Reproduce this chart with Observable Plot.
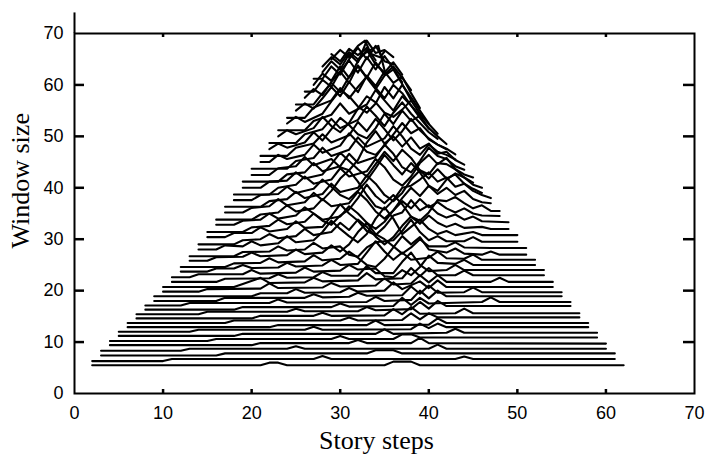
<!DOCTYPE html>
<html><head><meta charset="utf-8">
<script src="https://cdn.jsdelivr.net/npm/d3@7"></script>
<script src="https://cdn.jsdelivr.net/npm/@observablehq/plot@0.6"></script>
<style>body{margin:0;background:#fff}</style>
</head><body><div id="chart"></div>
<script>
const xTicks = [0,10,20,30,40,50,60,70];
const yTicks = [0,10,20,30,40,50,60,70];
const xLabel = "Story steps";
const yLabel = "Window size";

// one polyline per story window: [story step, window size] vertices
const lines = [
[[2,5.5],[21,5.5],[22,6],[23,6],[24,5.5],[35,5.5],[36,6.2],[38,6.2],[39,5.5],[62,5.5]],
[[2,6.3],[10,6.3],[11,6.7],[27,6.7],[28,7.3],[29,6.7],[43,6.7],[44,7.2],[45,6.7],[61,6.7]],
[[3,7.4],[16,7.4],[17,7.8],[33,7.8],[34,8.4],[36,8.4],[37,7.8],[61,7.8]],
[[3,8.3],[12,8.3],[13,8.7],[24,8.7],[25,9.2],[26,8.7],[40,8.7],[41,9.5],[42,8.7],[60,8.7]],
[[4,9.4],[20,9.4],[21,9.8],[31,9.8],[32,10.4],[33,9.8],[38,9.8],[39,10.8],[40,9.8],[60,9.7]],
[[4,10.2],[15,10.2],[16,10.6],[29,10.6],[30,11.2],[31,10.6],[36,10.6],[37,11.5],[38,11.5],[39,10.9],[59,10.9]],
[[5,11.2],[18,11.2],[19,11.6],[34,11.6],[35,12.5],[36,11.6],[42,11.8],[43,12.6],[44,11.8],[59,11.8]],
[[5,12],[13,12],[14,12.4],[26,12.4],[27,13],[28,12.4],[38,12.5],[39,13.6],[40,12.7],[41,13.6],[42,12.9],[58,12.9]],
[[6,12.9],[22,12.9],[23,13.3],[33,13.3],[34,14.2],[35,13.3],[40,13.4],[41,14.6],[42,13.7],[58,13.7]],
[[6,13.7],[17,13.7],[18,14.2],[30,14.2],[31,14.8],[32,14.2],[37,14.3],[38,15.6],[39,14.4],[40,15.6],[41,14.8],[57,14.8]],
[[7,14.6],[20,14.6],[21,15.1],[27,15.1],[28,15.7],[29,15.1],[35,15.2],[36,16.4],[37,15.4],[38,16.8],[39,15.5],[43,15.6],[44,16.5],[45,15.6],[57,15.6]],
[[7,15.4],[14,15.4],[15,15.9],[24,15.9],[25,16.5],[26,16],[32,16],[33,16.8],[34,16.2],[38,16.4],[39,17.8],[40,16.5],[41,18],[42,17],[56,17]],
[[8,16.3],[18,16.3],[19,16.8],[29,16.8],[30,17.5],[31,16.9],[36,17],[37,18.6],[38,17.2],[39,18.6],[40,17.5],[46,17.8],[47,18.7],[48,17.8],[56,17.8]],
[[8,17.1],[12,17.1],[13,17.6],[22,17.6],[23,18.3],[24,17.7],[33,17.8],[34,18.8],[35,18],[38,18.2],[39,20],[40,18.5],[41,20],[42,18.9],[55,18.9]],
[[9,18],[16,18],[17,18.6],[26,18.6],[27,19.3],[28,18.7],[31,18.8],[32,19.6],[33,19],[37,19.1],[38,20.8],[39,19.4],[40,21],[41,19.6],[44,19.7],[45,20.6],[46,19.7],[55,19.7]],
[[9,18.9],[20,18.9],[21,19.5],[24,19.5],[25,20.3],[26,19.6],[30,19.7],[31,20.5],[32,19.8],[35,20],[36,21.6],[37,20.3],[39,21.8],[40,20.5],[41,22],[42,20.7],[54,20.7]],
[[10,19.8],[14,19.8],[15,20.3],[21,20.4],[22,21.4],[23,20.5],[28,20.6],[29,21.5],[30,20.8],[34,21],[35,22.4],[36,21.2],[38,21.4],[39,23],[40,21.6],[41,23],[42,21.7],[47,21.7],[48,22.5],[49,21.7],[54,21.7]],
[[10,20.7],[18,20.7],[19,21.3],[21,22.5],[22,21.5],[26,21.6],[27,22.5],[28,21.8],[32,22],[33,23.4],[34,22.2],[37,22.4],[38,24.4],[39,22.8],[40,24.4],[41,23],[43,23],[44,23.9],[45,23],[53,23]],
[[11,21.7],[16,21.7],[17,22.3],[22,22.4],[23,23.2],[24,22.5],[27,22.6],[28,23.6],[29,22.9],[32,22.9],[33,24.8],[34,23.4],[36,23.4],[37,25.6],[38,27.4],[39,25],[40,23.8],[42,24],[43,25],[44,24],[53,24]],
[[11,22.6],[13,22.6],[14,23.2],[19,23.2],[20,24],[21,23.3],[25,23.5],[26,24.5],[27,23.7],[30,23.9],[31,25],[32,24.1],[34,24.3],[35,22.8],[36,22.6],[37,24],[38,23],[39,24.6],[40,26.8],[41,25.4],[43,25.2],[44,26],[45,25],[52,25]],
[[12,23.7],[15,23.7],[16,24.3],[18,24.3],[19,25],[20,24.4],[23,24.5],[24,25.4],[25,24.7],[28,24.9],[29,26],[30,25],[32,25.2],[33,27.4],[34,29.6],[35,27.6],[36,26],[37,27.4],[38,26],[40,26.4],[41,27.6],[42,26.3],[44,26.2],[45,27],[46,26],[52,26]],
[[12,24.6],[17,24.6],[18,25.3],[21,25.4],[22,26.3],[23,25.5],[26,25.7],[27,26.9],[28,25.9],[30,26.2],[31,27.6],[32,26.4],[33,25],[34,24.6],[35,26.2],[36,28.4],[37,30.6],[38,29],[39,30.4],[40,28],[42,27.4],[43,28.2],[44,27.2],[46,27],[47,27.6],[48,27],[51,27]],
[[13,25.8],[15,25.8],[16,26.5],[19,26.6],[20,27.4],[21,26.7],[24,26.9],[25,28],[26,27.1],[28,27.4],[29,28.8],[30,27.6],[31,29],[32,31.4],[33,33.2],[34,31],[35,30],[36,28.6],[37,27.2],[38,28.4],[39,30],[40,28.6],[42,28.6],[43,29.4],[44,28.4],[47,28.3],[51,28.3]],
[[13,26.7],[18,26.7],[19,27.5],[22,27.6],[23,28.6],[24,27.8],[26,28],[27,29.3],[28,28.2],[30,28.6],[31,27],[32,26.6],[33,28.4],[34,29.4],[36,29.8],[37,31.6],[38,33.8],[39,31.4],[40,29.8],[41,30.6],[42,29.6],[44,29.6],[45,30.4],[46,29.5],[50,29.5]],
[[14,28],[16,28],[17,28.8],[19,28.6],[20,29.6],[21,28.8],[23,29.2],[24,30.6],[25,29.4],[27,29.8],[28,31.4],[29,33.6],[30,32],[31,30.6],[32,29.4],[33,31],[34,34],[35,36.2],[36,34],[37,31],[38,32.4],[39,33.8],[40,32],[41,31],[42,31.6],[43,30.8],[45,31.4],[46,30.8],[50,30.8]],
[[14,29],[18,29],[19,29.8],[21,30],[22,31],[23,30.2],[25,30.6],[26,32],[27,30.8],[29,31.4],[30,33.2],[31,31.8],[32,33.8],[33,32.4],[34,30.5],[35,29],[36,30.4],[37,32.6],[38,34.4],[39,33],[40,34.6],[41,33.2],[42,32.4],[43,33],[44,32.2],[46,32.4],[47,32],[49,32]],
[[15,30.4],[17,30.4],[18,31.2],[20,31.2],[21,32.3],[22,31.5],[24,32],[25,33.5],[26,32.2],[28,32.4],[29,34.5],[30,36.8],[31,35],[32,33.6],[33,31.6],[34,30.8],[35,32.4],[36,34.6],[37,35.2],[38,37.6],[39,35.6],[40,36.6],[41,35],[42,34.2],[43,34.8],[44,33.8],[45,34.4],[46,33.5],[49,33.3]],
[[15,31.4],[19,31.4],[20,32.3],[22,32.6],[23,33.8],[24,32.9],[26,33.4],[27,35],[28,33.8],[30,34.4],[31,36.4],[32,35],[33,33.2],[34,32],[35,33.4],[36,35.6],[37,37.4],[38,36],[39,37.8],[40,36.2],[41,37.2],[42,36],[43,35.2],[44,36],[45,35],[46,34.6],[48,34.5]],
[[16,32.8],[18,32.8],[19,33.6],[21,33.8],[22,35],[23,34],[25,34.6],[26,36.2],[27,35],[28,33.6],[29,32.8],[30,34.6],[31,35.8],[32,38],[33,40.6],[34,38.4],[35,37],[36,38.6],[37,36.8],[38,34.4],[39,33.6],[40,35.2],[41,37.6],[42,37.4],[43,38.2],[44,37],[45,36],[46,36.6],[47,35.5],[48,35.5]],
[[16,33.8],[20,33.8],[21,34.8],[23,35.2],[24,36.6],[25,35.4],[27,36],[28,37.8],[29,36.4],[31,37],[32,39.2],[33,37.6],[34,35.4],[35,34],[36,35.6],[37,38],[38,40],[39,38.4],[40,40.4],[41,38.8],[42,40],[43,38.6],[44,39.4],[45,37.8],[46,37.2],[47,37]],
[[17,35.2],[19,35.2],[20,36.1],[22,36.4],[23,37.8],[24,36.6],[26,37.2],[27,39],[28,37.6],[29,39.4],[30,41.8],[31,43.4],[32,41.2],[33,38.6],[34,36.4],[35,35.8],[36,37.6],[37,40],[38,40.4],[39,41.6],[40,43],[41,41.2],[42,42],[43,40.2],[44,40.8],[45,39.4],[46,38.6],[47,38]],
[[17,36.3],[21,36.3],[22,37.4],[24,37.8],[25,39.2],[26,38],[28,38.8],[29,40.8],[30,39.2],[32,40],[33,42.4],[34,40.8],[35,38.6],[36,37.4],[37,39],[38,41.6],[39,43.4],[40,41.8],[41,43.6],[42,41.8],[43,42.6],[44,40.8],[45,39.8],[46,39]],
[[18,37.6],[20,37.6],[21,38.6],[23,38.8],[24,40.2],[25,39],[27,39.8],[28,41.6],[29,40.2],[30,38.6],[31,37.8],[32,39.4],[33,41.4],[34,43.8],[35,46.4],[36,44.4],[37,42.6],[38,44.8],[39,43],[40,40.4],[41,39.4],[42,41.6],[43,42.8],[44,42],[45,40.6],[46,40]],
[[18,38.7],[22,38.7],[23,40],[25,40.6],[26,42.2],[27,40.8],[29,41.6],[30,43.8],[31,42.2],[33,43.2],[34,45.6],[35,44],[36,41.6],[37,40.4],[38,42.2],[39,44.8],[40,46.4],[41,44.6],[42,45.8],[43,43.6],[44,42],[45,41]],
[[19,40],[21,40],[22,41.2],[24,41.4],[25,43],[26,41.8],[28,42.6],[29,44.6],[30,46.8],[31,45.2],[32,43.6],[33,42.2],[34,44.6],[35,47],[36,45.2],[37,47.4],[38,45.8],[39,43.4],[40,42.6],[41,44.8],[42,44.6],[43,43.6],[44,42.6],[45,42]],
[[19,41.2],[23,41.2],[24,42.6],[26,43],[27,44.8],[28,43.2],[30,44.2],[31,46.6],[32,44.8],[34,46],[35,48.4],[36,46.6],[37,44],[38,43],[39,45.2],[40,47.8],[41,46.2],[42,45.6],[43,44.2],[44,43.5]],
[[20,42.5],[22,42.5],[23,43.8],[25,44.2],[26,46],[27,44.4],[29,45.6],[30,44],[31,43.4],[32,45.4],[33,48.8],[34,51],[35,48.6],[36,50],[37,48],[38,49.8],[39,47.6],[40,48.6],[41,46.6],[42,47],[43,45.4],[44,44.5]],
[[20,43.7],[24,43.7],[25,45.2],[27,45.8],[28,47.8],[29,46.2],[31,47.4],[32,49.8],[33,48],[35,49.6],[36,52],[37,50],[38,47.6],[39,46.4],[40,48.4],[41,47],[42,46.4],[43,45.5]],
[[21,45],[22,45],[23,46.4],[24,45.6],[26,46.4],[27,48.4],[28,46.8],[30,48.2],[31,50.6],[32,48.8],[33,47],[34,46.4],[35,48.2],[36,50.4],[37,52.6],[38,50.6],[39,51.6],[40,49.4],[41,48.4],[42,47.6],[43,46.5]],
[[21,46.2],[24,46.2],[25,47.8],[27,48.6],[28,50.4],[29,48.8],[31,50.2],[32,52.8],[33,51],[34,53.4],[35,51.4],[36,49.2],[37,51],[38,53.4],[39,51.2],[40,49.6],[41,48.4],[42,47.5]],
[[22,47.5],[23,48.6],[24,47.8],[26,48.8],[27,50.8],[28,49.2],[29,51.4],[30,53.6],[31,52.2],[32,50.4],[33,49.6],[34,51.6],[35,54.4],[36,52.4],[37,55],[38,53],[39,54],[40,51.6],[41,50],[42,48.5]],
[[22,48.7],[25,48.7],[26,50.4],[28,51.4],[29,53.4],[30,51.6],[32,53.2],[33,55.8],[34,54],[35,52],[36,54.6],[37,56.6],[38,54.4],[39,52.6],[40,50.8],[41,49.5]],
[[23,50],[24,51.2],[25,50.4],[27,51.6],[28,53.8],[29,52],[30,50.8],[31,52.6],[32,55.4],[33,57.8],[34,56.6],[35,54.6],[36,53.8],[37,55.2],[38,57],[39,54.4],[40,52.4],[41,50.5]],
[[23,51.2],[26,51.2],[27,53],[29,54.2],[30,56.4],[31,54.4],[33,56.2],[34,59],[35,57],[36,55],[37,57.8],[38,56],[39,53.6],[40,51.5]],
[[24,52.5],[25,53.8],[26,52.8],[28,54.4],[29,56.8],[30,59],[31,57.8],[32,55.8],[33,54.6],[34,56.4],[35,59.6],[36,57.4],[37,60],[38,57.6],[39,55],[40,52.5]],
[[24,53.6],[26,53.6],[27,55.6],[29,57],[30,59.4],[31,57.4],[32,59.6],[33,61.6],[34,59.4],[35,57.4],[36,60],[37,58.4],[38,56],[39,54]],
[[25,55],[26,56.4],[27,55.4],[28,57.4],[29,59.6],[30,57.8],[31,60.6],[32,58.6],[33,61.8],[34,59.8],[35,62.6],[36,60.4],[37,61.6],[38,58.4],[39,55.5]],
[[25,56.2],[27,56.2],[28,58.4],[29,60.4],[30,58.6],[31,61.6],[32,63.6],[33,61.4],[34,59.2],[35,61.8],[36,63],[37,60.2],[38,57]],
[[26,57.5],[27,59.2],[28,58],[29,60.6],[30,62.6],[31,60.4],[32,63.8],[33,61.4],[34,64.4],[35,62],[36,63.6],[37,61.4],[38,59]],
[[26,58.7],[27,58.7],[28,61],[29,59.6],[30,62.6],[31,64.8],[32,62.4],[33,65.4],[34,63],[35,65.6],[36,63.2],[37,60.5]],
[[27,60],[28,62.2],[29,60.8],[30,63.6],[31,61.4],[32,64.6],[33,66.8],[34,64],[35,62.4],[36,64.4],[37,62]],
[[27,61.2],[28,61.2],[29,63.6],[30,62],[31,65],[32,67.2],[33,65],[34,67.6],[35,64.6],[36,64]],
[[28,62.5],[29,64.6],[30,63],[31,66],[32,64.4],[33,68.6],[34,66.2],[35,66.8],[36,65.4]],
[[28,63.6],[29,65.4],[30,64],[31,66.4],[32,65],[33,66.4],[34.3,67.6],[35.1,62.2]],
[[29,65],[30,66.8],[31,65.4],[32,67.6],[32.8,68.6],[33.5,66],[34.5,65.4],[35,66.5]],
[[29,66],[30,64.6],[31,67],[32,65.8],[33,67.2],[34,64.8]]
];

const points = lines.flatMap((pts, id) => pts.map(([x, y]) => ({id, x, y})));

const W = 709, H = 457, mL = 74, mR = 15, mT = 33, mB = 64;
const plotW = W - mL - mR, plotH = H - mT - mB;
const serif = "'Liberation Serif', 'Times New Roman', serif";
const sans = "'Liberation Sans', Arial, sans-serif";

const chart = Plot.plot({
  width: W, height: H,
  marginLeft: mL, marginRight: mR, marginTop: mT, marginBottom: mB,
  style: {fontFamily: sans, background: "white", color: "black"},
  x: {domain: [0, 70], ticks: xTicks, label: null},
  y: {domain: [0, 70], ticks: yTicks, label: null},
  marks: [
    Plot.line(points, {x: "x", y: "y", z: "id", stroke: "black", strokeWidth: 2.1}),
    Plot.frame({stroke: "black", strokeWidth: 2}),
    Plot.ruleX([0], {y1: 70, y2: 74, stroke: "black", strokeWidth: 2}),
    Plot.tickY(yTicks.slice(1, -1), {y: d => d, stroke: "black", strokeWidth: 2.5, insetRight: plotW - 10}),
    Plot.tickY(yTicks.slice(1, -1), {y: d => d, stroke: "black", strokeWidth: 2.5, insetLeft: plotW - 11}),
    Plot.tickX(xTicks.slice(1, -1), {x: d => d, stroke: "black", strokeWidth: 2.5, insetTop: plotH - 4}),
    Plot.tickX(xTicks.slice(1, -1), {x: d => d, stroke: "black", strokeWidth: 2.5, insetBottom: plotH - 4}),
    Plot.axisX(xTicks, {tickSize: 0, tickPadding: 13, fontSize: 18, fontFamily: sans}),
    Plot.axisY(yTicks, {tickSize: 0, tickPadding: 11, fontSize: 18, fontFamily: sans}),
    Plot.text([xLabel], {text: d => d, frameAnchor: "bottom", dx: -8, dy: 55, lineAnchor: "bottom", fontSize: 26, fontFamily: serif}),
    Plot.text([yLabel], {text: d => d, frameAnchor: "left", dx: -54, dy: 35, rotate: -90, fontSize: 26, fontFamily: serif})
  ]
});
document.getElementById("chart").appendChild(chart);
</script>
</body></html>
